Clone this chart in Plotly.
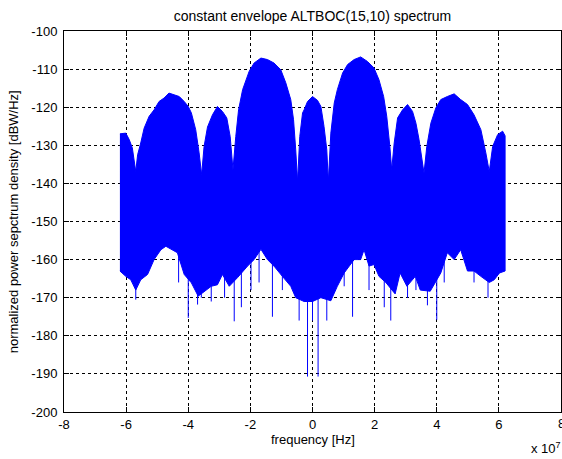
import plotly.graph_objects as go

# upper edge of the spectrum band (frequency in units of 1e7 Hz, dBW/Hz)
upper_freq = [-6.20, -6.01, -5.90, -5.80, -5.69, -5.63, -5.53, -5.42, -5.26, -5.10,
              -4.94, -4.78, -4.62, -4.46, -4.29, -4.13, -4.00, -3.90, -3.76, -3.65,
              -3.57, -3.49, -3.38, -3.22, -3.06, -2.90, -2.76, -2.65, -2.56, -2.47,
              -2.38, -2.25, -2.15, -2.04, -1.88, -1.66, -1.45, -1.24, -1.02, -0.86,
              -0.70, -0.61, -0.54, -0.48, -0.41, -0.32, -0.27, -0.16, 0.00, 0.16,
              0.27, 0.37, 0.46, 0.51, 0.59, 0.70, 0.80, 0.97, 1.13, 1.34,
              1.55, 1.77, 1.98, 2.14, 2.29, 2.39, 2.49, 2.55, 2.63, 2.74,
              2.90, 3.06, 3.22, 3.33, 3.43, 3.51, 3.59, 3.68, 3.81, 3.97,
              4.13, 4.34, 4.56, 4.77, 4.99, 5.20, 5.42, 5.58, 5.69, 5.80,
              5.96, 6.12, 6.20]
upper_db = [-127.0, -126.8, -128.5, -130.7, -136.9, -132.5, -129.4, -125.5, -122.4, -120.7,
            -118.5, -117.6, -116.3, -116.7, -117.2, -118.5, -119.8, -121.5, -125.9, -132.0,
            -137.7, -130.3, -125.2, -122.0, -119.8, -121.1, -122.8, -127.7, -136.4, -127.7,
            -120.7, -115.4, -112.8, -110.6, -108.4, -107.1, -107.5, -108.4, -110.2, -113.6,
            -118.0, -123.3, -131.2, -139.5, -127.7, -121.5, -120.7, -118.5, -117.2, -118.2,
            -119.8, -125.0, -131.2, -139.5, -126.8, -118.9, -115.4, -111.0, -108.8, -107.5,
            -106.8, -108.0, -109.7, -112.8, -117.2, -122.4, -130.3, -136.4, -129.4, -122.8,
            -120.7, -119.3, -121.1, -124.2, -128.5, -132.9, -137.3, -130.3, -124.2, -120.2,
            -118.0, -117.2, -116.5, -118.0, -119.3, -122.0, -125.9, -132.0, -136.9, -130.3,
            -127.2, -126.3, -127.5]

# lower edge of the solid band
lower_freq = [-6.20, -6.01, -5.85, -5.69, -5.53, -5.31, -5.10, -4.88, -4.72, -4.35,
              -4.13, -3.90, -3.68, -3.47, -3.26, -3.06, -2.90, -2.68, -2.41, -2.09,
              -1.88, -1.66, -1.45, -1.24, -0.97, -0.70, -0.54, -0.27, 0.00, 0.27,
              0.59, 0.80, 1.02, 1.34, 1.55, 1.66, 1.82, 1.98, 2.14, 2.36,
              2.66, 2.82, 3.04, 3.31, 3.47, 3.79, 4.13, 4.34, 4.56, 4.77,
              4.99, 5.20, 5.42, 5.69, 5.85, 6.02, 6.20]
lower_db = [-163.0, -164.4, -165.3, -168.0, -165.3, -163.9, -160.0, -157.4, -156.5, -158.2,
            -163.9, -166.1, -169.6, -168.3, -167.0, -166.6, -163.9, -167.0, -164.7, -161.7,
            -160.0, -157.3, -160.0, -161.7, -164.4, -167.0, -170.0, -171.0, -171.0, -170.0,
            -170.8, -167.0, -163.5, -160.0, -160.0, -157.4, -161.7, -161.3, -164.4, -166.0,
            -169.0, -163.5, -167.0, -164.4, -168.0, -168.3, -163.5, -158.2, -160.0, -157.4,
            -163.0, -163.0, -164.4, -166.0, -165.3, -163.5, -163.0]

# deep downward spikes below the band
spike_freq = [-5.69, -4.31, -4.00, -3.70, -3.58, -3.26, -2.83, -2.52, -2.29, -1.98,
              -1.72, -1.29, -0.97, -0.43, -0.16, 0.00, 0.18, 0.46, 1.02, 1.29,
              1.82, 2.31, 2.52, 3.06, 3.33, 3.70, 4.00, 4.24, 5.20, 5.65]
spike_db = [-170.5, -166.0, -175.3, -171.8, -170.0, -171.0, -170.0, -176.2, -172.5, -168.0,
            -166.0, -175.0, -168.0, -176.0, -190.7, -176.0, -190.7, -176.0, -167.0, -175.0,
            -168.0, -172.5, -176.0, -170.0, -168.0, -172.0, -175.8, -166.0, -166.0, -170.0]

x_ticks = [-8, -6, -4, -2, 0, 2, 4, 6, 8]
y_ticks = [-200, -190, -180, -170, -160, -150, -140, -130, -120, -110, -100]

BLUE = '#0000ff'

fig = go.Figure()

# filled band between upper and lower edges
fig.add_trace(go.Scatter(
    x=upper_freq + lower_freq[::-1],
    y=upper_db + lower_db[::-1],
    mode='lines',
    fill='toself',
    fillcolor=BLUE,
    line=dict(color=BLUE, width=1),
    hoverinfo='skip'
))

# spikes: thin vertical lines from inside the band down to the spike value
sx, sy = [], []
for f, d in zip(spike_freq, spike_db):
    sx += [f, f, None]
    sy += [-150, d, None]
fig.add_trace(go.Scatter(x=sx, y=sy, mode='lines',
                         line=dict(color=BLUE, width=1), hoverinfo='skip'))

axis_style = dict(
    showline=True, linecolor='black', linewidth=1, mirror='ticks',
    ticks='inside', ticklen=5, tickcolor='black',
    showgrid=True, gridcolor='black', gridwidth=1, griddash='3px,3px',
    zeroline=False, automargin=False, tickfont=dict(size=13)
)

fig.update_xaxes(range=[-8, 8], tickvals=x_ticks, ticktext=[str(t) for t in x_ticks],
                 **axis_style)
fig.update_yaxes(range=[-200, -100], tickvals=y_ticks, ticktext=[str(t) for t in y_ticks],
                 ticklabelstandoff=3, **axis_style)

fig.update_layout(
    width=562, height=459,
    margin=dict(l=64, r=1, t=31, b=47),
    plot_bgcolor='white', paper_bgcolor='white',
    font=dict(family='Liberation Sans, Arial, sans-serif', size=13, color='black'),
    showlegend=False,
    title=dict(text='constant envelope ALTBOC(15,10) spectrum',
               x=0.5, xref='paper', xanchor='center',
               y=1 - 16 / 459, yref='container', yanchor='middle',
               font=dict(size=14)),
    annotations=[
        dict(text='frequency [Hz]', xref='paper', yref='paper', x=0.5, y=-0.072,
             xanchor='center', yanchor='middle', showarrow=False, font=dict(size=13)),
        dict(text='normalized power sepctrum density [dBW/Hz]', xref='paper', yref='paper',
             x=-0.101, y=0.5, textangle=-90, xanchor='center', yanchor='middle',
             showarrow=False, font=dict(size=13)),
        dict(text='x 10<sup>7</sup>', xref='paper', yref='paper', x=0.97, y=-0.095,
             xanchor='center', yanchor='middle', showarrow=False, font=dict(size=13)),
        # last x tick label, half cut by the window edge as in the original
        dict(text=str(x_ticks[-1]), xref='x', yref='paper', x=x_ticks[-1], y=-0.03,
             xanchor='center', yanchor='middle', showarrow=False, font=dict(size=13)),
    ]
)

# page body has a default 8px margin; drop it so the figure sits at the window origin
fig.write_html("out.html", config={'displayModeBar': False},
               post_script="document.body.style.margin = '0';")
